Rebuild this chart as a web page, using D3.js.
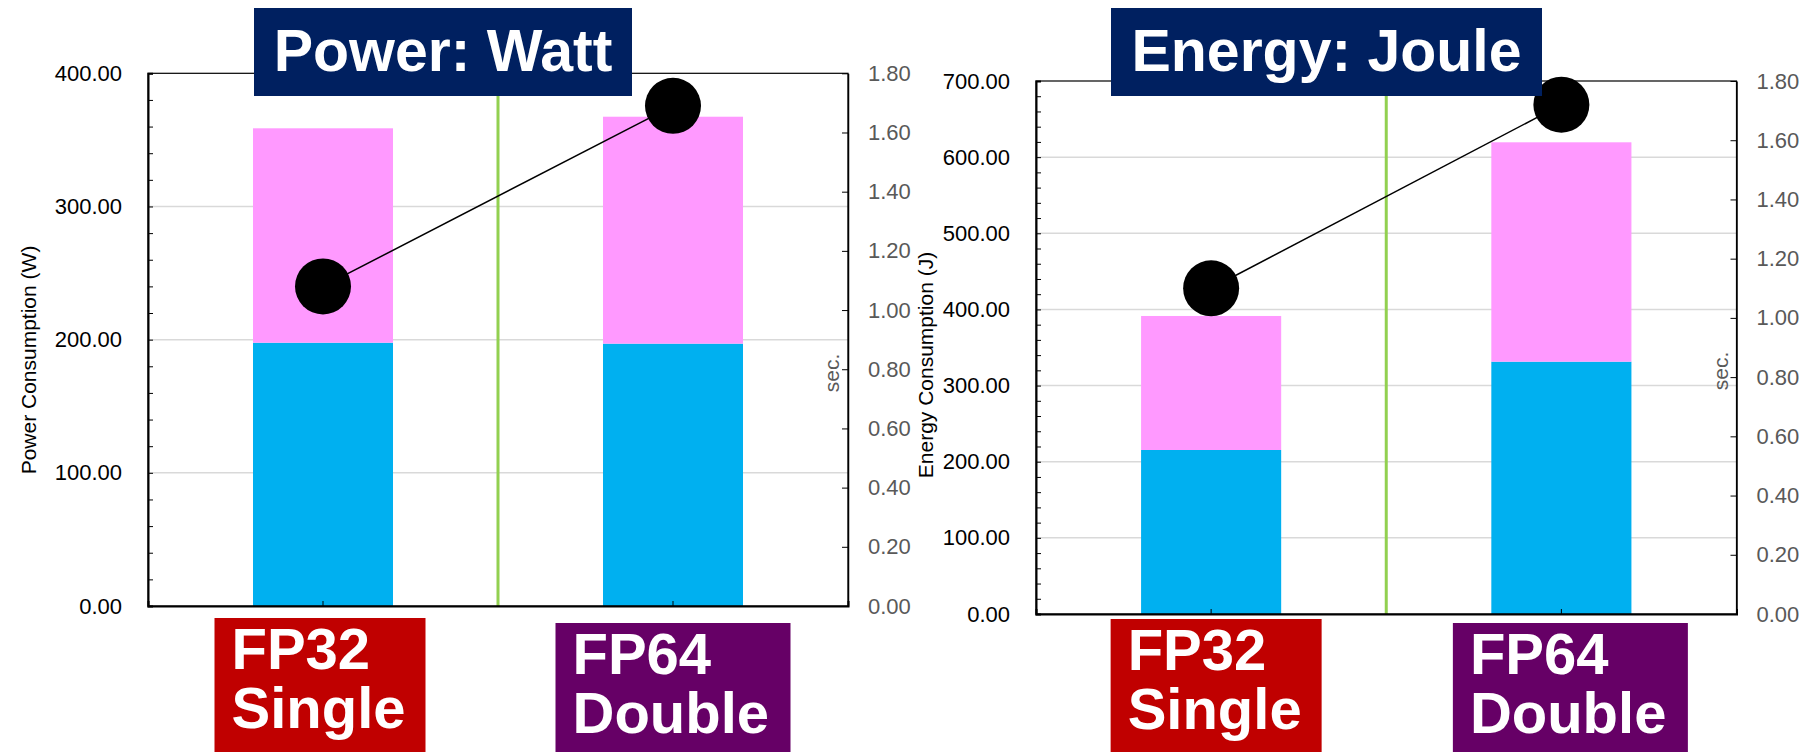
<!DOCTYPE html>
<html>
<head>
<meta charset="utf-8">
<script src="https://cdn.jsdelivr.net/npm/d3@7"></script>
<style>
  body { margin: 0; background: #fff; }
  svg { display: block; font-family: Arial, "Liberation Sans", sans-serif; }
</style>
</head>
<body>
<div id="chart"></div>
<script>
// data
const categories = ["FP32", "FP64"];
const categoryLines = [["FP32", "Single"], ["FP64", "Double"]];
const categoryColors = ["#C00000", "#660066"];

const powerBase = [197.7, 197.0];   // blue segment (W)
const powerExtra = [161.0, 170.4];  // pink segment (W)
const powerSec = [1.08, 1.69];
const powerTicks = [0, 100, 200, 300, 400];

const energyBase = [215.4, 331.4];  // blue segment (J)
const energyExtra = [176.0, 288.1]; // pink segment (J)
const energySec = [1.10, 1.72];
const energyTicks = [0, 100, 200, 300, 400, 500, 600, 700];

const secTicks = [0, 0.2, 0.4, 0.6, 0.8, 1.0, 1.2, 1.4, 1.6, 1.8];

const svg = d3.select("#chart").append("svg")
    .attr("width", 1809)
    .attr("height", 752);

function drawPanel(cfg) {
    const g = svg.append("g");
    const maxY = d3.max(cfg.ticks);

    // scales
    const x = d3.scaleBand().domain(categories).range([cfg.left, cfg.right]).padding(0);
    const y = d3.scaleLinear().domain([0, maxY]).range([cfg.bottom, cfg.top]);
    const y2 = d3.scaleLinear().domain([0, 1.8]).range([cfg.bottom, cfg.top]);
    const barW = x.bandwidth() * 0.4;

    // gridlines
    g.append("g").selectAll("line")
        .data(cfg.ticks.filter(t => t > 0 && t < maxY))
        .join("line")
        .attr("x1", cfg.left).attr("x2", cfg.right)
        .attr("y1", d => y(d)).attr("y2", d => y(d))
        .attr("stroke", "#d9d9d9").attr("stroke-width", 1.5);

    // stacked bars
    const rows = categories.map((c, i) => ({ cat: c, base: cfg.base[i], extra: cfg.extra[i] }));
    const stacked = d3.stack().keys(["base", "extra"])(rows);
    const fill = { base: "#00B0F0", extra: "#FF99FF" };

    g.append("g").selectAll("g")
        .data(stacked)
        .join("g")
        .attr("fill", d => fill[d.key])
        .selectAll("rect")
        .data(d => d)
        .join("rect")
        .attr("x", d => x(d.data.cat) + (x.bandwidth() - barW) / 2)
        .attr("width", barW)
        .attr("y", d => y(d[1]))
        .attr("height", d => y(d[0]) - y(d[1]));

    // green divider between the two categories
    const midX = x(categories[1]);
    g.append("line")
        .attr("x1", midX).attr("x2", midX)
        .attr("y1", cfg.top).attr("y2", cfg.bottom)
        .attr("stroke", "#92D050").attr("stroke-width", 3);

    // frame
    g.append("rect")
        .attr("x", cfg.left).attr("y", cfg.top)
        .attr("width", cfg.right - cfg.left).attr("height", cfg.bottom - cfg.top)
        .attr("fill", "none").attr("stroke", "#000").attr("stroke-width", 1.2);

    // left axis: minor ticks every 20, labels on majors
    g.append("g")
        .attr("transform", `translate(${cfg.left},0)`)
        .call(d3.axisLeft(y).tickValues(d3.range(0, maxY + 1, 20)).tickSize(-5).tickFormat(""))
        .call(a => a.select(".domain").attr("stroke-width", 2));

    g.append("g")
        .attr("transform", `translate(${cfg.left},0)`)
        .call(d3.axisLeft(y).tickValues(cfg.ticks).tickSize(0).tickPadding(26).tickFormat(d3.format(".2f")))
        .call(a => a.select(".domain").remove())
        .selectAll("text")
        .attr("font-size", 22).attr("fill", "#000")
        .attr("font-family", "Arial, 'Liberation Sans', sans-serif");

    // right axis (sec.)
    g.append("g")
        .attr("transform", `translate(${cfg.right},0)`)
        .call(d3.axisRight(y2).tickValues(secTicks).tickSizeInner(-6).tickSizeOuter(0).tickPadding(20).tickFormat(d3.format(".2f")))
        .call(a => a.select(".domain").attr("stroke-width", 1.5))
        .call(a => a.selectAll("text")
            .attr("font-size", 22).attr("fill", "#595959")
            .attr("font-family", "Arial, 'Liberation Sans', sans-serif"));

    // bottom axis category ticks
    g.append("g")
        .attr("transform", `translate(0,${cfg.bottom})`)
        .call(d3.axisBottom(x).tickSize(-5).tickFormat(""))
        .call(a => a.select(".domain").attr("stroke-width", 2));

    // axis titles
    g.append("text")
        .attr("transform", `translate(${cfg.labelX},${cfg.labelY}) rotate(-90)`)
        .attr("text-anchor", "middle")
        .attr("font-size", 21)
        .text(cfg.yLabel);

    g.append("text")
        .attr("transform", `translate(${cfg.right - 9},${cfg.secY}) rotate(-90)`)
        .attr("text-anchor", "middle")
        .attr("font-size", 21)
        .attr("fill", "#595959")
        .text("sec.");

    // seconds line + dots
    const pts = categories.map((c, i) => [x(c) + x.bandwidth() / 2, y2(cfg.sec[i])]);
    g.append("path")
        .attr("d", d3.line()(pts))
        .attr("fill", "none").attr("stroke", "#000").attr("stroke-width", 1.5);
    g.append("g").selectAll("circle")
        .data(pts)
        .join("circle")
        .attr("cx", d => d[0]).attr("cy", d => d[1])
        .attr("r", 28).attr("fill", "#000");

    // title box
    g.append("rect")
        .attr("x", cfg.titleX[0]).attr("y", 8)
        .attr("width", cfg.titleX[1] - cfg.titleX[0]).attr("height", 88)
        .attr("fill", "#002060");
    g.append("text")
        .attr("x", (cfg.titleX[0] + cfg.titleX[1]) / 2).attr("y", 71)
        .attr("text-anchor", "middle")
        .attr("font-size", 59).attr("font-weight", "bold").attr("fill", "#fff")
        .text(cfg.title);

    // category label boxes
    const boxes = g.append("g").selectAll("g")
        .data(categories)
        .join("g")
        .attr("transform", (c, i) => `translate(${x(c) + x.bandwidth() / 2 + cfg.boxShift[i] - cfg.boxW[i] / 2},${cfg.boxTop[i]})`);
    boxes.append("rect")
        .attr("width", (c, i) => cfg.boxW[i])
        .attr("height", 140)
        .attr("fill", (c, i) => categoryColors[i]);
    boxes.append("text")
        .attr("font-size", 58).attr("font-weight", "bold").attr("fill", "#fff")
        .selectAll("tspan")
        .data((c, i) => categoryLines[i])
        .join("tspan")
        .attr("x", 17)
        .attr("y", (d, j) => 51 + j * 59)
        .text(d => d);
}

drawPanel({
    left: 148, right: 848, top: 73.3, bottom: 606,
    ticks: powerTicks, base: powerBase, extra: powerExtra, sec: powerSec,
    yLabel: "Power Consumption (W)", labelX: 36, labelY: 360, secY: 373,
    title: "Power: Watt", titleX: [254, 632],
    boxW: [211, 235], boxShift: [-3, 0], boxTop: [618, 623]
});

drawPanel({
    left: 1036, right: 1736.5, top: 81, bottom: 614,
    ticks: energyTicks, base: energyBase, extra: energyExtra, sec: energySec,
    yLabel: "Energy Consumption (J)", labelX: 933, labelY: 365, secY: 371,
    title: "Energy: Joule", titleX: [1111, 1542],
    boxW: [211, 235], boxShift: [5, 9], boxTop: [619, 623]
});
</script>
</body>
</html>
